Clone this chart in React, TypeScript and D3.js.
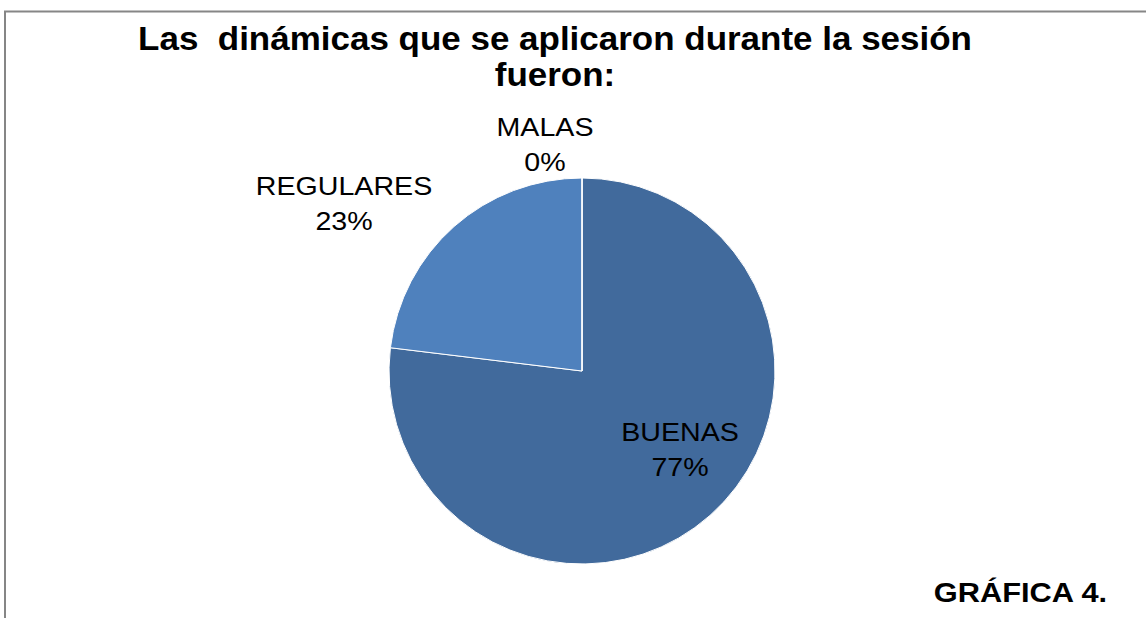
import React from "react";
import * as d3 from "d3";

const categories = ["BUENAS", "REGULARES", "MALAS"];
const values = [10, 3, 0];
const percentLabels = ["77%", "23%", "0%"];
const titleLines = ["Las  dinámicas que se aplicaron durante la sesión", "fueron:"];
const footer = "GRÁFICA 4.";

const colors = ["#416A9C", "#4F81BD", "#7F9FCF"];
// label anchor positions (center x, first baseline)
const labelPos: Record<string, [number, number]> = {
  BUENAS: [680, 441],
  REGULARES: [344, 195],
  MALAS: [545, 136],
};

export default function App() {
  const W = 1146, H = 618;
  const cx = 582, cy = 371, r = 193;
  const pie = d3.pie<number>().sort(null).value((d) => d);
  const arcs = pie(values);
  const arc = d3.arc<d3.PieArcDatum<number>>().innerRadius(0).outerRadius(r);
  const font = "'Liberation Sans', Arial, sans-serif";
  return (
    <svg width={W} height={H} style={{ position: "absolute", left: 0, top: 0, display: "block" }}>
      <rect x={0} y={0} width={W} height={H} fill="#fff" />
      <path d={`M5,${H + 5} L5,11.5 L${W + 5},11.5`} fill="none" stroke="#868686" strokeWidth={2} />
      {titleLines.map((t, i) => (
        <text key={i} transform={`translate(555,${50 + i * 36}) scale(1.06,1)`} textAnchor="middle"
          style={{ whiteSpace: "pre" }} fontFamily={font} fontWeight="bold" fontSize={33} fill="#000">{t}</text>
      ))}
      <g transform={`translate(${cx},${cy})`}>
        {arcs.map((a, i) => (
          <path key={i} d={arc(a) || ""} fill={colors[i]} stroke="#fff" strokeWidth={1} />
        ))}
      </g>
      {categories.map((c, i) => {
        const [x, y] = labelPos[c];
        return (
          <g key={c}>
            <text transform={`translate(${x},${y}) scale(1.1,1)`} textAnchor="middle" fontFamily={font} fontSize={26} fill="#000">{c}</text>
            <text transform={`translate(${x},${y + 35}) scale(1.1,1)`} textAnchor="middle" fontFamily={font} fontSize={26} fill="#000">{percentLabels[i]}</text>
          </g>
        );
      })}
      <text transform={`translate(1020.5,602) scale(1.1,1)`} textAnchor="middle" fontFamily={font} fontWeight="bold" fontSize={28} fill="#000">{footer}</text>
    </svg>
  );
}
